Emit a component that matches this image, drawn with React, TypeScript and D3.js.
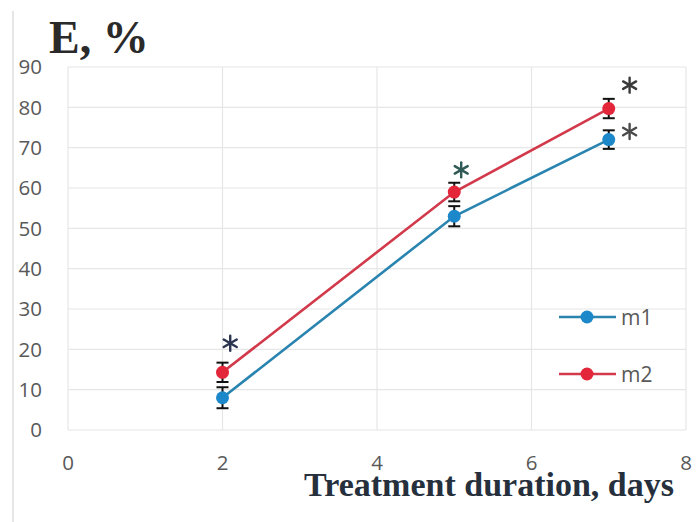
import React from "react";
import * as d3 from "d3";

const days = [2, 5, 7];
const m1 = [8, 53, 72];
const m1Err = [2.6, 2.5, 2.3];
const m2 = [14.3, 59, 79.7];
const m2Err = [2.4, 2.3, 2.4];
const xTicks = [0, 2, 4, 6, 8];
const yTicks = [0, 10, 20, 30, 40, 50, 60, 70, 80, 90];
const stars = [
  { x: 2.1, y: 21.5, color: "#2b3550" },
  { x: 5.09, y: 64.5, color: "#2f5a55" },
  { x: 7.27, y: 85.5, color: "#3a3a3a" },
  { x: 7.27, y: 74, color: "#4a4a4a" },
];
const seriesList = [
  { name: "m1", values: m1, errs: m1Err, color: "#1c87c9", line: "#2a84b0" },
  { name: "m2", values: m2, errs: m2Err, color: "#e3263a", line: "#d23a4c" },
];

const W = 696;
const H = 522;

export default function App() {
  const x = d3.scaleLinear().domain([0, 8]).range([68, 686]);
  const y = d3.scaleLinear().domain([0, 90]).range([430, 67]);
  const line = d3
    .line<number>()
    .x((_, i) => x(days[i]))
    .y((d) => y(d));
  const tickFont = "'Open Sans', 'Liberation Sans', sans-serif";

  return (
    <div style={{ position: "absolute", left: 0, top: 0 }}>
      <svg width={W} height={H} style={{ display: "block", background: "#fff" }}>
        <line x1={13} x2={13} y1={11} y2={H} stroke="#dedede" strokeWidth={1.5} />
        {yTicks.map((t) => (
          <line key={"gy" + t} x1={x(0)} x2={x(8)} y1={y(t)} y2={y(t)} stroke="#e6e6e6" strokeWidth={1.2} />
        ))}
        {xTicks.map((t) => (
          <line key={"gx" + t} x1={x(t)} x2={x(t)} y1={y(0)} y2={y(90)} stroke="#e6e6e6" strokeWidth={1.2} />
        ))}
        {yTicks.map((t) => (
          <text key={"ty" + t} x={42} y={y(t)} dy="0.36em" textAnchor="end" fontFamily={tickFont} fontSize={20.5} fill="#595959">
            {t}
          </text>
        ))}
        {xTicks.map((t) => (
          <text key={"tx" + t} x={x(t)} y={470} textAnchor="middle" fontFamily={tickFont} fontSize={20.5} fill="#595959">
            {t}
          </text>
        ))}
        {seriesList.map((s) => (
          <path key={"l" + s.name} d={line(s.values) || ""} fill="none" stroke={s.line} strokeWidth={2.6} />
        ))}
        {seriesList.map((s) =>
          s.values.map((v, i) => (
            <g key={"e" + s.name + i} stroke="#111" strokeWidth={2}>
              <line x1={x(days[i])} x2={x(days[i])} y1={y(v - s.errs[i])} y2={y(v + s.errs[i])} />
              <line x1={x(days[i]) - 6} x2={x(days[i]) + 6} y1={y(v - s.errs[i])} y2={y(v - s.errs[i])} />
              <line x1={x(days[i]) - 6} x2={x(days[i]) + 6} y1={y(v + s.errs[i])} y2={y(v + s.errs[i])} />
            </g>
          ))
        )}
        {seriesList.map((s) =>
          s.values.map((v, i) => (
            <circle key={"c" + s.name + i} cx={x(days[i])} cy={y(v)} r={6.5} fill={s.color} />
          ))
        )}
        {stars.map((st, i) => {
          const cx = x(st.x);
          const cy = y(st.y);
          const r = 7.5;
          return (
            <g key={"s" + i} stroke={st.color} strokeWidth={2.4} strokeLinecap="round">
              {[90, 30, 150].map((a) => {
                const rad = (a * Math.PI) / 180;
                return (
                  <line key={a} x1={cx - r * Math.cos(rad)} y1={cy - r * Math.sin(rad)} x2={cx + r * Math.cos(rad)} y2={cy + r * Math.sin(rad)} />
                );
              })}
            </g>
          );
        })}
        {seriesList.map((s, i) => {
          const ly = 317 + i * 57;
          return (
            <g key={"lg" + s.name}>
              <line x1={559} x2={616} y1={ly} y2={ly} stroke={s.line} strokeWidth={2.6} />
              <circle cx={587} cy={ly} r={6.5} fill={s.color} />
              <text x={621} y={ly} dy="0.36em" fontFamily={tickFont} fontSize={21} fill="#595959">
                {s.name}
              </text>
            </g>
          );
        })}
        <text x={49} y={53} fontFamily="'Liberation Serif', 'Times New Roman', serif" fontWeight="bold" fontSize={46} fill="#2a2a2a">
          E, %
        </text>
        <text x={304} y={496} fontFamily="'Liberation Serif', 'Times New Roman', serif" fontWeight="bold" fontSize={34} fill="#26303d" textLength={370} lengthAdjust="spacingAndGlyphs">
          Treatment duration, days
        </text>
      </svg>
    </div>
  );
}
